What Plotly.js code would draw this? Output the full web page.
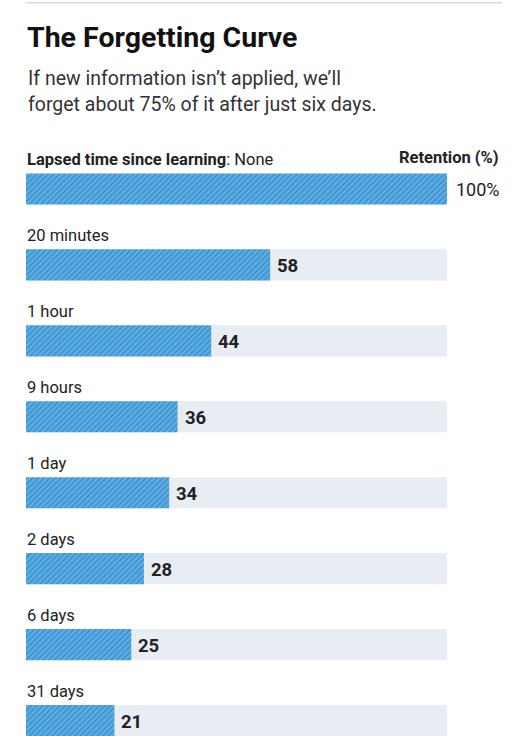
<!DOCTYPE html>
<html>
<head>
<meta charset="utf-8">
<script src="https://cdn.plot.ly/plotly-3.0.1.min.js"></script>
<style>
  html, body { margin: 0; padding: 0; background: #fff; }
  #chart { width: 525px; height: 736px; }
</style>
</head>
<body>
<div id="chart"></div>
<script>
const lapsedTimes = ['None', '20 minutes', '1 hour', '9 hours', '1 day', '2 days', '6 days', '31 days'];
const retention = [100, 58, 44, 36, 34, 28, 25, 21];
const maxRetention = 100;

const W = 525, H = 736;
const plotTop = 150.5, plotLeft = 25.5, plotRight = 447.5;
const plotH = H - plotTop;
const plotW = plotRight - plotLeft;
// pixel -> paper helpers
const py = p => (H - p) / plotH;
const px = p => (p - plotLeft) / plotW;

const labelFont = {family: 'Roboto, sans-serif', size: 16.5, color: '#222'};

const background = {
    type: 'bar',
    orientation: 'h',
    y: lapsedTimes,
    x: lapsedTimes.map(() => maxRetention),
    width: 0.41,
    marker: {color: '#e8ecf3', line: {width: 0}},
    hoverinfo: 'skip'
};

const bars = {
    type: 'bar',
    orientation: 'h',
    y: lapsedTimes,
    x: retention,
    width: 0.41,
    marker: {
        color: '#5daee3',
        line: {width: 0},
        pattern: {shape: '/', fgcolor: '#3488c8', bgcolor: '#5daee3', size: 4, solidity: 0.3}
    }
};

const annotations = [];

lapsedTimes.forEach((t, i) => {
    // category label above each bar
    annotations.push({
        xref: 'x', yref: 'y', x: 0, y: t,
        xanchor: 'left', yanchor: 'middle', yshift: 29, xshift: -1,
        text: i === 0 ? '<b>Lapsed time since learning</b>: ' + t : t,
        showarrow: false, font: labelFont
    });
    // value label
    annotations.push({
        xref: 'x', yref: 'y', x: retention[i], y: t,
        xanchor: 'left', yanchor: 'middle', xshift: i === 0 ? 7 : 5, yshift: -1,
        text: i === 0 ? retention[i] + '%' : '<b>' + retention[i] + '</b>',
        showarrow: false,
        font: {family: 'Roboto, sans-serif', size: i === 0 ? 18 : 18.5, color: '#222'}
    });
});

annotations.push({
    xref: 'paper', yref: 'paper', x: px(502), y: py(157),
    xanchor: 'right', yanchor: 'middle',
    text: '<b>Retention (%)</b>', showarrow: false, font: labelFont
});

const subtitle = ['If new information isn’t applied, we’ll', 'forget about 75% of it after just six days.'];
subtitle.forEach((line, i) => {
    annotations.push({
        xref: 'paper', yref: 'paper', x: px(26), y: py(77.5 + i * 26),
        xanchor: 'left', yanchor: 'middle',
        text: line, showarrow: false,
        font: {family: 'Roboto, sans-serif', size: 19.5, color: '#333'}
    });
});

const layout = {
    width: W, height: H,
    margin: {l: plotLeft, r: W - plotRight, t: plotTop, b: 0, pad: 0},
    paper_bgcolor: '#fff', plot_bgcolor: '#fff',
    barmode: 'overlay',
    showlegend: false,
    title: {
        text: '<b>The Forgetting Curve</b>',
        x: 27 / W, xref: 'container', xanchor: 'left',
        y: 1 - 37 / H, yref: 'container', yanchor: 'middle',
        font: {family: 'Roboto, sans-serif', size: 28.5, color: '#111'}
    },
    xaxis: {range: [0, maxRetention], visible: false, fixedrange: true},
    yaxis: {
        type: 'category', range: [7.204, -0.5], visible: false, fixedrange: true
    },
    shapes: [{
        type: 'line', xref: 'paper', yref: 'paper',
        x0: px(25), x1: px(503), y0: py(2), y1: py(2),
        line: {color: '#d9d9d9', width: 1.5}
    }],
    annotations: annotations
};

Plotly.newPlot('chart', [background, bars], layout, {displayModeBar: false, responsive: false});
</script>
</body>
</html>
